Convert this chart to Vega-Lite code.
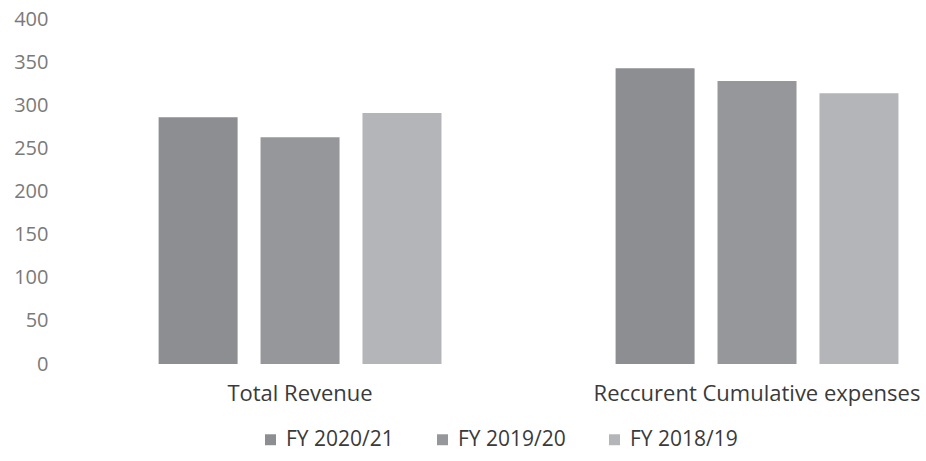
{
  "$schema": "https://vega.github.io/schema/vega-lite/v6.json",
  "autosize": {"type": "none"},
  "width": 871,
  "height": 345,
  "padding": {"left": 55, "top": 19, "right": 0, "bottom": 97},
  "background": "white",
  "config": {
    "view": {"stroke": null},
    "font": "Open Sans"
  },
  "data": {
    "values": [
      {"category": "Total Revenue", "year": "FY 2020/21", "value": 286},
      {"category": "Total Revenue", "year": "FY 2019/20", "value": 263},
      {"category": "Total Revenue", "year": "FY 2018/19", "value": 291},
      {"category": "Reccurent Cumulative expenses", "year": "FY 2020/21", "value": 343},
      {"category": "Reccurent Cumulative expenses", "year": "FY 2019/20", "value": 328},
      {"category": "Reccurent Cumulative expenses", "year": "FY 2018/19", "value": 314}
    ]
  },
  "mark": {"type": "bar"},
  "encoding": {
    "x": {
      "field": "category",
      "type": "nominal",
      "sort": ["Total Revenue", "Reccurent Cumulative expenses"],
      "scale": {"paddingInner": 0.381, "paddingOuter": 0.1435, "align": 0.79},
      "axis": {
        "title": null,
        "labelAngle": 0,
        "domain": false,
        "ticks": false,
        "labelFontSize": 22,
        "labelLimit": 0,
        "labelColor": "#3a3a3a",
        "labelPadding": 19
      }
    },
    "xOffset": {
      "field": "year",
      "type": "nominal",
      "sort": ["FY 2020/21", "FY 2019/20", "FY 2018/19"],
      "scale": {"paddingInner": 0.225, "paddingOuter": 0}
    },
    "y": {
      "field": "value",
      "type": "quantitative",
      "scale": {"domain": [0, 400], "nice": false},
      "axis": {
        "title": null,
        "values": [0, 50, 100, 150, 200, 250, 300, 350, 400],
        "grid": false,
        "domain": false,
        "ticks": false,
        "labelFontSize": 20,
        "labelColor": "#7a7a7a",
        "labelPadding": 7
      }
    },
    "color": {
      "field": "year",
      "type": "nominal",
      "scale": {
        "domain": ["FY 2020/21", "FY 2019/20", "FY 2018/19"],
        "range": ["#8d8e92", "#96979b", "#b4b5b9"]
      },
      "legend": {
        "title": null,
        "orient": "none",
        "legendX": 205,
        "legendY": 410,
        "direction": "horizontal",
        "symbolType": "square",
        "symbolSize": 120,
        "symbolStrokeWidth": 0,
        "labelFontSize": 21,
        "labelLimit": 0,
        "labelColor": "#3a3a3a",
        "columnPadding": 38,
        "labelOffset": 5
      }
    }
  }
}
